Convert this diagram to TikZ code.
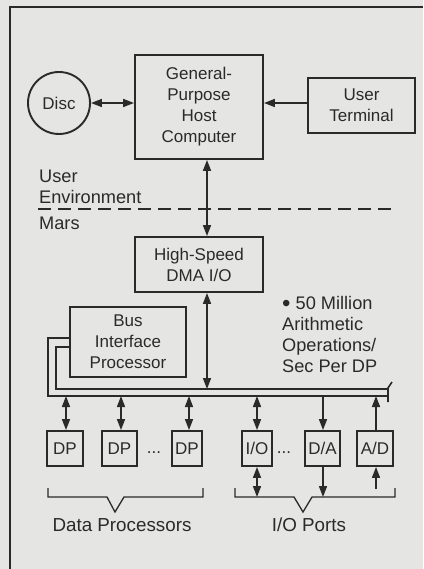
\documentclass[tikz,border=0pt]{standalone}
\usepackage{fontspec}
\setmainfont{Liberation Sans}
\usetikzlibrary{arrows.meta}
\definecolor{bg}{HTML}{E5E5E3}
\definecolor{ink}{HTML}{2A2A2A}
\begin{document}
\begin{tikzpicture}[x=1pt,y=-1pt,
  txt/.style={font=\fontsize{17}{21}\selectfont, text=ink, inner sep=0pt},
  lbl/.style={txt, font=\fontsize{18.2}{21}\selectfont},
  box/.style={txt, draw=ink, line width=1.9pt, align=center},
  wire/.style={draw=ink, line width=1.6pt},
  tip/.style={wire, arrows={-Triangle[length=11pt,width=8pt]}},
  dtip/.style={wire, arrows={Triangle[length=11pt,width=8pt]-Triangle[length=11pt,width=8pt]}},
  brace/.style={draw=ink, line width=1.3pt}]
\fill[bg] (0,0) rectangle (423,569);
\useasboundingbox (0,0) rectangle (423,569);
% frame
\draw[wire] (10,569) -- (10,7) -- (423,7);

% nodes
\node[box, minimum width=128pt, minimum height=104pt] (host) at (199,107) {General-\\Purpose\\Host\\Computer};
\node[box, circle, minimum size=62pt] (disc) at (59,103) {Disc};
\node[box, minimum width=107pt, minimum height=55pt] (term) at (361.5,105.5) {User\\Terminal};
\node[box, minimum width=128pt, minimum height=55pt] (dma) at (199,264.5) {High-Speed\\DMA I/O};
\node[box, minimum width=116pt, minimum height=70pt] (bip) at (128,342) {Bus\\Interface\\Processor};

\node[lbl, anchor=west, align=left] (env) at (39,187) {User\\Environment};
\node[lbl, anchor=west] (mars) at (39,223) {Mars};
\node[lbl, anchor=west, align=left] (note) at (282,334.5) {{\fontsize{24}{21}\selectfont\raisebox{-1.5pt}{•}} 50 Million\\Arithmetic\\Operations/\\Sec Per DP};

\node[box, minimum width=36pt, minimum height=35pt] (dp1) at (65,448.5) {DP};
\node[box, minimum width=35pt, minimum height=35pt] (dp2) at (119.5,448.5) {DP};
\node[box, minimum width=30pt, minimum height=35pt] (dp3) at (187,448.5) {DP};
\node[box, minimum width=30pt, minimum height=35pt] (io) at (257,448.5) {I/O};
\node[box, minimum width=35pt, minimum height=35pt] (da) at (322.5,448.5) {D/A};
\node[box, minimum width=36pt, minimum height=35pt] (ad) at (375,448.5) {A/D};
\node[txt, anchor=base] (dots1) at (154,453) {...};
\node[txt, anchor=base] (dots2) at (284,453) {...};

\node[lbl, font=\fontsize{18.8}{21}\selectfont] (dplab) at (122,525) {Data Processors};
\node[lbl, font=\fontsize{18.8}{21}\selectfont] (iolab) at (309,525) {I/O Ports};

% coordinates
\coordinate (hx) at (207,0);
\coordinate (busin) at (0,389);
\coordinate (busout) at (0,396);
\coordinate (brk) at (0,497);
\coordinate (adin) at (376,489);

% top connectors
\draw[dtip] (disc) -- (host.west |- disc);
\draw[tip] (term.west |- disc) -- (host.east |- disc);
\draw[dtip] (host.south -| hx) -- (dma.north -| hx);
\draw[dtip] (dma.south -| hx) -- (hx |- busin);

% dashed boundary
\draw[draw=ink, line width=1.2pt, dash pattern=on 13pt off 7pt] (38,209) -- (397,209);

% bus
\draw[wire] (bip.west |- 0,338) -- (48,338) -- (48,396) -- (388,396);
\draw[wire] (bip.west |- 0,347) -- (56,347) -- (56,389) -- (388,389);
\draw[wire] (388,402) -- (388,388) -- (392,382);

% bus to units
\draw[dtip] (dp1.north -| 66,0) -- (66,0 |- busout);
\draw[dtip] (dp2.north -| 121,0) -- (121,0 |- busout);
\draw[dtip] (dp3.north -| 189,0) -- (189,0 |- busout);
\draw[dtip] (io.north) -- (io.north |- busout);
\draw[tip] (323,0 |- busout) -- (da.north -| 323,0);
\draw[tip] (ad.north -| 376,0) -- (376,0 |- busout);

% below units
\draw[dtip] (io.south) -- (io.south |- brk);
\draw[tip] (da.south -| 323,0) -- (323,0 |- brk);
\draw[tip] (adin) -- (ad.south -| adin);

% brackets
\draw[brace] (48,488) -- (48,497) -- (107,497) -- (115,512) -- (124,497) -- (203,497) -- (203,488);
\draw[brace] (235,488) -- (235,497) -- (294,497) -- (303,512) -- (312,497) -- (395,497) -- (395,488);
\end{tikzpicture}
\end{document}
